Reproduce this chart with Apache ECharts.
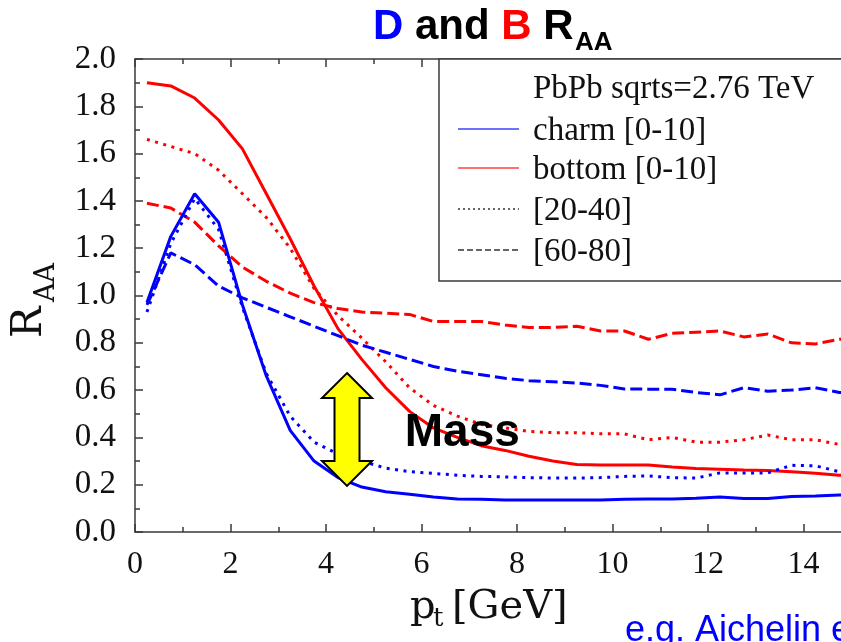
<!DOCTYPE html>
<html>
<head>
<meta charset="utf-8">
<script src="https://cdn.jsdelivr.net/npm/echarts@6/dist/echarts.min.js"></script>
<style>
  html, body { margin: 0; padding: 0; background: #fff; }
  #chart { width: 841px; height: 642px; }
</style>
</head>
<body>
<div id="chart"></div>
<script>
// Transverse momentum bins (GeV)
const pt = [0.25, 0.75, 1.25, 1.75, 2.25, 2.75, 3.25, 3.75, 4.25, 4.75,
            5.25, 5.75, 6.25, 6.75, 7.25, 7.75, 8.25, 8.75, 9.25, 9.75,
            10.25, 10.75, 11.25, 11.75, 12.25, 12.75, 13.25, 13.75, 14.25, 14.75, 15.25];

// R_AA of D mesons (charm) per centrality class
const charm_0_10 = [0.97, 1.25, 1.43, 1.31, 0.96, 0.66, 0.43, 0.30, 0.23, 0.19,
                    0.17, 0.16, 0.148, 0.14, 0.138, 0.135, 0.135, 0.135, 0.135, 0.135,
                    0.138, 0.14, 0.14, 0.143, 0.148, 0.142, 0.142, 0.15, 0.152, 0.156, 0.16];
const charm_20_40 = [0.93, 1.22, 1.41, 1.28, 0.95, 0.67, 0.49, 0.38, 0.33, 0.30,
                     0.27, 0.255, 0.248, 0.24, 0.235, 0.233, 0.23, 0.228, 0.228, 0.23,
                     0.235, 0.237, 0.23, 0.228, 0.25, 0.25, 0.25, 0.282, 0.28, 0.255, 0.25];
const charm_60_80 = [0.96, 1.18, 1.13, 1.04, 0.99, 0.95, 0.91, 0.87, 0.83, 0.79,
                     0.76, 0.73, 0.70, 0.68, 0.665, 0.65, 0.64, 0.635, 0.63, 0.62,
                     0.605, 0.604, 0.604, 0.59, 0.58, 0.61, 0.595, 0.60, 0.61, 0.59, 0.59];

// R_AA of B mesons (bottom) per centrality class
const bottom_0_10 = [1.90, 1.886, 1.835, 1.742, 1.62, 1.43, 1.24, 1.04, 0.86, 0.73,
                     0.61, 0.51, 0.44, 0.40, 0.365, 0.345, 0.32, 0.30, 0.285, 0.283,
                     0.283, 0.283, 0.275, 0.268, 0.265, 0.262, 0.26, 0.255, 0.248, 0.24, 0.235];
const bottom_20_40 = [1.66, 1.63, 1.60, 1.53, 1.43, 1.33, 1.20, 1.03, 0.915, 0.82,
                      0.72, 0.61, 0.535, 0.49, 0.455, 0.44, 0.425, 0.42, 0.42, 0.415,
                      0.415, 0.39, 0.40, 0.38, 0.38, 0.39, 0.41, 0.39, 0.39, 0.37, 0.36];
const bottom_60_80 = [1.39, 1.37, 1.31, 1.21, 1.12, 1.06, 1.01, 0.97, 0.945, 0.93,
                      0.925, 0.92, 0.89, 0.89, 0.89, 0.875, 0.865, 0.865, 0.87, 0.85,
                      0.85, 0.815, 0.84, 0.845, 0.85, 0.825, 0.837, 0.80, 0.795, 0.815, 0.82];

// Axis ranges and tick steps
const xRange = [0, 16], xStep = 2;
const yRange = [0, 2], yStep = 0.2;

// Legend entries
const legendHeader = 'PbPb sqrts=2.76 TeV';
const legendLabels = ['charm [0-10]', 'bottom [0-10]', '[20-40]', '[60-80]'];

const BLUE = '#0000ff', RED = '#ff0000', AXIS = '#3a3a3a';
const SERIF = '"Liberation Serif", "Times New Roman", serif';
const SANS = '"Liberation Sans", Arial, sans-serif';
const DOT = [3, 5.5], DASH = [12, 5];

const pairs = ys => pt.map((x, i) => [x, ys[i]]);
const curve = (name, ys, color, dash) => ({
  name, type: 'line', data: pairs(ys), symbol: 'none', smooth: false,
  lineStyle: { color, width: 3, type: dash || 'solid', cap: 'butt' },
  emphasis: { disabled: true }, silent: true
});

const tickCommon = {
  axisLine: { show: true, onZero: false, lineStyle: { color: AXIS, width: 1.5 } },
  axisTick: { show: true, inside: true, length: 8, lineStyle: { color: AXIS, width: 1.5 } },
  minorTick: { show: true, splitNumber: 2, length: 5, lineStyle: { color: AXIS, width: 1.5 } },
  splitLine: { show: false }
};

const chart = echarts.init(document.getElementById('chart'), null, { renderer: 'canvas' });

chart.setOption({
  animation: false,
  backgroundColor: '#fff',
  grid: { left: 135, top: 59, width: 764, height: 473, containLabel: false, outerBoundsMode: 'none' },
  xAxis: [
    Object.assign({
      type: 'value', min: xRange[0], max: xRange[1], interval: xStep, position: 'bottom',
      axisLabel: { color: '#111', fontFamily: SERIF, fontSize: 32, margin: 17 }
    }, tickCommon),
    Object.assign({
      type: 'value', min: xRange[0], max: xRange[1], interval: xStep, position: 'top',
      axisLabel: { show: false }
    }, tickCommon)
  ],
  yAxis: [
    Object.assign({
      type: 'value', min: yRange[0], max: yRange[1], interval: yStep, position: 'left',
      axisLabel: { color: '#111', fontFamily: SERIF, fontSize: 33, margin: 19,
                   formatter: v => v.toFixed(1) }
    }, tickCommon)
  ],
  series: [
    curve('bottom [60-80]', bottom_60_80, RED, DASH),
    curve('bottom [20-40]', bottom_20_40, RED, DOT),
    curve('bottom [0-10]', bottom_0_10, RED),
    curve('charm [60-80]', charm_60_80, BLUE, DASH),
    curve('charm [20-40]', charm_20_40, BLUE, DOT),
    curve('charm [0-10]', charm_0_10, BLUE)
  ]
});

// Annotation anchored in data space: double arrow between the charm curves
const toPx = p => chart.convertToPixel({ xAxisIndex: 0, yAxisIndex: 0 }, p);
const arrowX = 4.44, arrowTop = 0.672, arrowBottom = 0.195;
const tTip = toPx([arrowX, arrowTop]);
const bTip = toPx([arrowX, arrowBottom]);
const cx = tTip[0], headW = 25, shaftW = 12.5, headL = 25;
const arrowPts = [
  [cx, tTip[1]],
  [cx + headW, tTip[1] + headL],
  [cx + shaftW, tTip[1] + headL],
  [cx + shaftW, bTip[1] - headL],
  [cx + headW, bTip[1] - headL],
  [cx, bTip[1]],
  [cx - headW, bTip[1] - headL],
  [cx - shaftW, bTip[1] - headL],
  [cx - shaftW, tTip[1] + headL],
  [cx - headW, tTip[1] + headL]
];
const massPos = toPx([5.65, 0.416]);

// Legend box, drawn as a framed panel at the upper right
const legX = 439, legY = 59, legLineX0 = 458, legLineX1 = 519, legTextX = 533;
const legRows = [131, 170, 211, 252];
const legStyles = [
  { stroke: '#4040ff', lineDash: null },
  { stroke: '#ff4040', lineDash: null },
  { stroke: '#333', lineDash: [2, 3] },
  { stroke: '#333', lineDash: [6, 3] }
];
const legendGraphics = [
  { type: 'rect', shape: { x: legX, y: legY, width: 460, height: 222 },
    style: { fill: '#fff', stroke: AXIS, lineWidth: 1.5 }, z: 10 },
  { type: 'text', x: legTextX, y: 89,
    style: { text: legendHeader, font: '33px ' + SERIF, fill: '#111', verticalAlign: 'middle' }, z: 11 }
];
legendLabels.forEach((lab, i) => {
  legendGraphics.push({
    type: 'line', shape: { x1: legLineX0, y1: legRows[i] - 2, x2: legLineX1, y2: legRows[i] - 2 },
    style: { stroke: legStyles[i].stroke, lineWidth: 1.5, lineDash: legStyles[i].lineDash }, z: 11
  });
  legendGraphics.push({
    type: 'text', x: legTextX, y: legRows[i],
    style: { text: lab, font: '33px ' + SERIF, fill: '#111', verticalAlign: 'middle' }, z: 11
  });
});

chart.setOption({
  graphic: [
    // Title: "D and B R_AA"
    { type: 'text', x: 373, y: 27, style: {
        text: '{d|D} {k|and} {b|B} {k|R}',
        rich: {
          d: { font: 'bold 42px ' + SANS, fill: BLUE },
          b: { font: 'bold 42px ' + SANS, fill: RED },
          k: { font: 'bold 42px ' + SANS, fill: '#000' }
        },
        font: 'bold 42px ' + SANS, verticalAlign: 'middle' } },
    { type: 'text', x: 575, y: 43, style: { text: 'AA', font: 'bold 26px ' + SANS, fill: '#000', verticalAlign: 'middle' } },

    // Y axis title: R_AA (rotated)
    { type: 'text', x: 30, y: 338, rotation: Math.PI / 2,
      style: { text: 'R', font: '42px "DejaVu Serif", serif', fill: '#111', verticalAlign: 'middle', align: 'left' } },
    { type: 'text', x: 47, y: 302, rotation: Math.PI / 2,
      style: { text: 'AA', font: '27px "DejaVu Serif", serif', fill: '#111', verticalAlign: 'middle', align: 'left' } },

    // X axis title: p_t [GeV]
    { type: 'text', x: 410, y: 608, style: { text: 'p', font: '40px "DejaVu Serif", serif', fill: '#111', verticalAlign: 'middle' } },
    { type: 'text', x: 433, y: 619, style: { text: 't', font: '26px "DejaVu Serif", serif', fill: '#111', verticalAlign: 'middle' } },
    { type: 'text', x: 452, y: 608, style: { text: '[GeV]', font: '40px "DejaVu Serif", serif', fill: '#111', verticalAlign: 'middle' } },

    // Reference note
    { type: 'text', x: 625, y: 631, style: { text: 'e.g. Aichelin et al.', font: '36px ' + SANS, fill: BLUE, verticalAlign: 'middle' } },

    // Mass annotation
    { type: 'polygon', shape: { points: arrowPts },
      style: { fill: '#ffff00', stroke: '#000', lineWidth: 2, lineJoin: 'miter' }, z: 20 },
    { type: 'text', x: massPos[0], y: massPos[1],
      style: { text: 'Mass', font: 'bold 46px ' + SANS, fill: '#000', verticalAlign: 'middle' }, z: 20 }
  ].concat(legendGraphics)
});
</script>
</body>
</html>
